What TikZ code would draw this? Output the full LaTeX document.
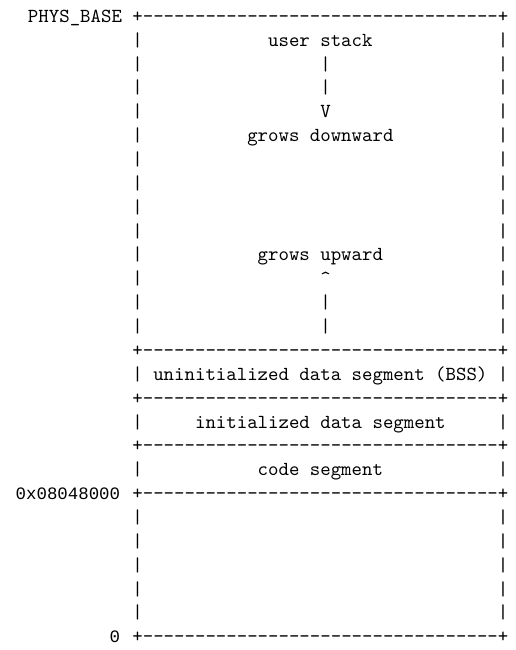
\documentclass[tikz,border=0pt]{standalone}
\usepackage{fontspec}
\newfontfamily\addrfont{Liberation Mono}[Scale=0.875]
% one column = one Latin Modern Mono cell, one row = 12pt
\newcommand\dashfill{\foreach \k in {1,...,34}{-\kern0pt}}
\tikzset{
  chr/.style={font=\ttfamily, inner sep=0pt, anchor=base west},
  addr/.style={font=\addrfont, inner sep=0pt, anchor=base east},
}
\begin{document}
\begin{tikzpicture}[x=5.25pt, y=-12pt]
\useasboundingbox (-13.143,-0.725) rectangle (36.267,26.508);
\def\bl{0.2083}
% horizontal borders
\foreach \r in {0,14,16,18,20,26}
  \node[chr] (rule\r) at (-0.5,\r+\bl) {+\dashfill+};
% vertical borders
\foreach \r in {1,...,13,15,17,19,21,22,23,24,25}{
  \node[chr] (sl\r) at (-0.5,\r+\bl) {|};
  \node[chr] (sr\r) at (34.5,\r+\bl) {|};
}
% address labels
\node[chr] (physbase) at (-10.5,0+\bl) {PHYS\_BASE};
\node[addr] (codebase) at (-1.6,20+\bl) {0x08048000};
\node[addr] (zero) at (-1.6,26+\bl) {0};
% stack region
\node[chr] (stack) at (12.5,1+\bl) {user stack};
\node[chr] (down1) at (17.5,2+\bl) {|};
\node[chr] (down2) at (17.5,3+\bl) {|};
\node[chr] (downtip) at (17.5,4+\bl) {V};
\node[chr] (downlbl) at (10.5,5+\bl) {grows downward};
% heap region
\node[chr] (uplbl) at (11.5,10+\bl) {grows upward};
\node[chr] (uptip) at (17.5,11+\bl) {\textasciicircum};
\node[chr] (up1) at (17.5,12+\bl) {|};
\node[chr] (up2) at (17.5,13+\bl) {|};
% segments
\node[chr] (bss) at (1.5,15+\bl) {uninitialized data segment (BSS)};
\node[chr] (data) at (5.5,17+\bl) {initialized data segment};
\node[chr] (code) at (11.5,19+\bl) {code segment};
\end{tikzpicture}
\end{document}
